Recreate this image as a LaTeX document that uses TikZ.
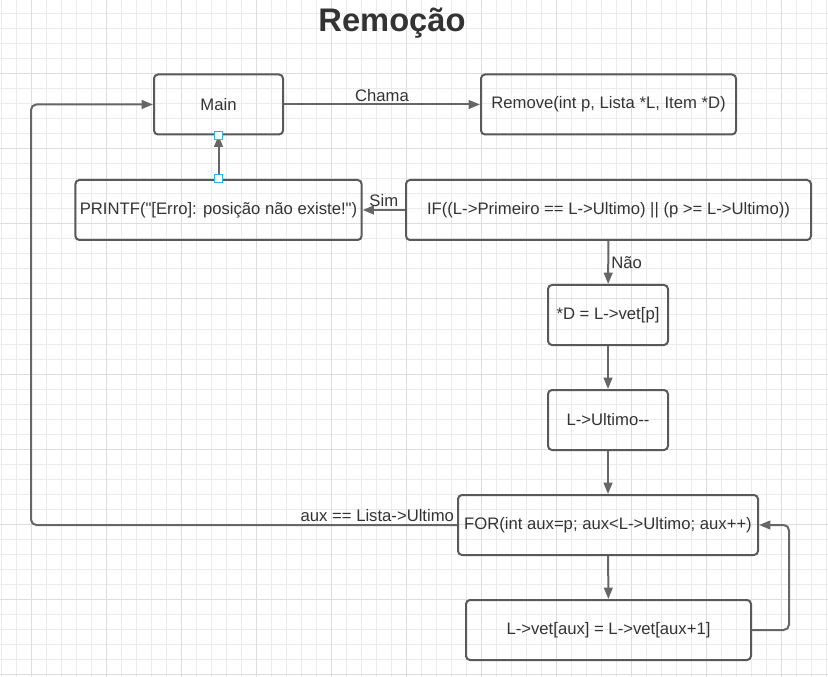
\documentclass[tikz,border=0pt]{standalone}
\usepackage{fontspec}
\setmainfont{Liberation Sans}[Ligatures=TeXOff]
\usetikzlibrary{arrows.meta}
\definecolor{gradefina}{HTML}{EBEBEB}
\definecolor{gradegrossa}{HTML}{DDDDDD}
\definecolor{borda}{HTML}{595959}
\definecolor{linha}{HTML}{666666}
\definecolor{texto}{HTML}{333333}
\definecolor{alca}{HTML}{29B6F2}

\begin{document}
\begin{tikzpicture}[x=0.75pt, y=-0.75pt,
    caixa/.style={rectangle, draw=borda, line width=1.5pt, rounded corners=3pt,
        minimum height=45pt, text=texto, font=\fontsize{12.5}{14}\selectfont},
    seta/.style={draw=linha, line width=1.5pt, -{Triangle[length=8.5pt,width=6.5pt]}},
    rotulo/.style={text=texto, font=\fontsize{12.5}{14}\selectfont, inner sep=1.5pt},
    alca/.style={rectangle, draw=alca, fill=white, line width=0.75pt, minimum size=6pt, inner sep=0pt}]
    \useasboundingbox (0,0) rectangle (828,677);
    % grade
    \foreach \x in {1,16,...,826} \draw[gradefina, line width=0.75pt] (\x,0) -- (\x,677);
    \foreach \y in {14,29,...,674} \draw[gradefina, line width=0.75pt] (0,\y) -- (828,\y);
    \foreach \x in {31,106,...,781} \draw[gradegrossa, line width=0.75pt] (\x,0) -- (\x,677);
    \foreach \y in {74,149,...,674} \draw[gradegrossa, line width=0.75pt] (0,\y) -- (828,\y);

    \node[text=texto, font=\fontsize{24.5}{28}\selectfont\bfseries] (titulo) at (392,23) {Remoção};

    \node[caixa, minimum width=96.75pt] (main) at (218.5,104.5) {Main};
    \node[caixa, minimum width=191.25pt] (remove) at (608.5,104.5) {Remove(int p, Lista *L, Item *D)};
    \node[caixa, minimum width=213.75pt] (printf) at (218.5,210) {PRINTF("[Erro]: posição não existe!")};
    \node[caixa, minimum width=303.75pt] (if) at (608.5,210) {IF((L->Primeiro == L->Ultimo) || (p >= L->Ultimo))};
    \node[caixa, minimum width=90pt] (vetp) at (608,315) {*D = L->vet[p]};
    \node[caixa, minimum width=90pt] (ultimo) at (608,420) {L->Ultimo--};
    \node[caixa, minimum width=225pt] (for) at (608,525) {FOR(int aux=p; aux<L->Ultimo; aux++)};
    \node[caixa, minimum width=213.75pt] (desloca) at (608.5,630) {L->vet[aux] = L->vet[aux+1]};

    \coordinate (volta) at (31,525);
    \coordinate (laco) at (789,630);

    \draw[seta] (main) -- node[rotulo, above] {Chama} (remove);
    \draw[seta] (if) -- node[rotulo, above] {Sim} (printf);
    \draw[seta] (printf) -- (main);
    \draw[seta] (if) -- node[rotulo, right] {Não} (vetp);
    \draw[seta] (vetp) -- (ultimo);
    \draw[seta] (ultimo) -- (for);
    \draw[seta] (for) -- (desloca);
    \draw[seta, rounded corners=4pt] (desloca.east) -- (laco) |- (for.east);
    \draw[seta, rounded corners=4pt] (for.west) -- node[rotulo, pos=0, above left] {aux == Lista->Ultimo} (volta) |- (main.west);

    \node[alca] (alcamain) at (main.south) {};
    \node[alca] (alcaprintf) at (printf.north) {};
\end{tikzpicture}
\end{document}
